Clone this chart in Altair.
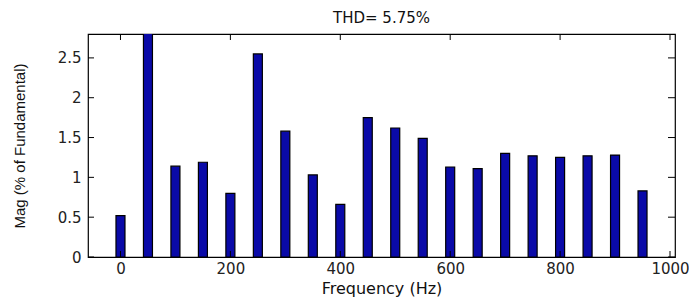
import altair as alt
import pandas as pd

freqs = [0, 50, 100, 150, 200, 250, 300, 350, 400, 450, 500, 550, 600, 650, 700, 750, 800, 850, 900, 950]
mags = [0.52, 100.0, 1.14, 1.19, 0.80, 2.55, 1.58, 1.03, 0.66, 1.75, 1.62, 1.49, 1.13, 1.11, 1.30, 1.27, 1.25, 1.27, 1.28, 0.83]
x_ticks = [0, 200, 400, 600, 800, 1000]
y_ticks = [0, 0.5, 1, 1.5, 2, 2.5]

df = pd.DataFrame({"f": freqs, "m": mags})
xt = pd.DataFrame({"t": x_ticks})
yt = pd.DataFrame({"t": y_ticks})

xs = alt.Scale(domain=[-50, 1000], nice=False, zero=False)
ys = alt.Scale(domain=[0, 2.8], nice=False)

font = "DejaVu Sans"

bars = alt.Chart(df).mark_bar(size=9, clip=True, fill="#0A0AA8", stroke="#000000", strokeWidth=1.2).encode(
    x=alt.X("f:Q", scale=xs, title="Frequency (Hz)",
            axis=alt.Axis(values=x_ticks, format="d", ticks=False, domain=False, grid=False,
                          labelFontSize=15, labelColor="#222", labelPadding=4,
                          titleFontSize=16, titleFontWeight="normal", titleColor="#111",
                          titlePadding=4, labelFont=font, titleFont=font)),
    y=alt.Y("m:Q", scale=ys, title="Mag (% of Fundamental)",
            axis=alt.Axis(values=y_ticks, format="~g", ticks=False, domain=False, grid=False,
                          labelFontSize=15, labelColor="#222", labelPadding=7,
                          titleFontSize=15, titleFontWeight="normal", titleColor="#111",
                          titlePadding=30, labelFont=font, titleFont="Liberation Sans")),
)

xb = alt.Chart(xt).mark_rule(color="#000").encode(x=alt.X("t:Q", scale=xs), y=alt.value(223), y2=alt.value(217))
xtp = alt.Chart(xt).mark_rule(color="#000").encode(x=alt.X("t:Q", scale=xs), y=alt.value(0), y2=alt.value(6))
yl = alt.Chart(yt).mark_rule(color="#000").encode(y=alt.Y("t:Q", scale=ys), x=alt.value(0), x2=alt.value(6))
yr = alt.Chart(yt).mark_rule(color="#000").encode(y=alt.Y("t:Q", scale=ys), x=alt.value(587), x2=alt.value(580))

chart = alt.layer(bars, xb, xtp, yl, yr).properties(
    width=587, height=223,
    title=alt.TitleParams("THD= 5.75%", fontSize=15, fontWeight="normal", font=font, color="#111", offset=8),
    background="white",
    autosize=alt.AutoSizeParams(type="none"),
    padding={"left": 80, "top": 26, "right": 14, "bottom": 43},
).configure_view(stroke="#000", strokeWidth=1.2)

chart.save("out.html", embed_options={"renderer": "svg", "actions": False})
